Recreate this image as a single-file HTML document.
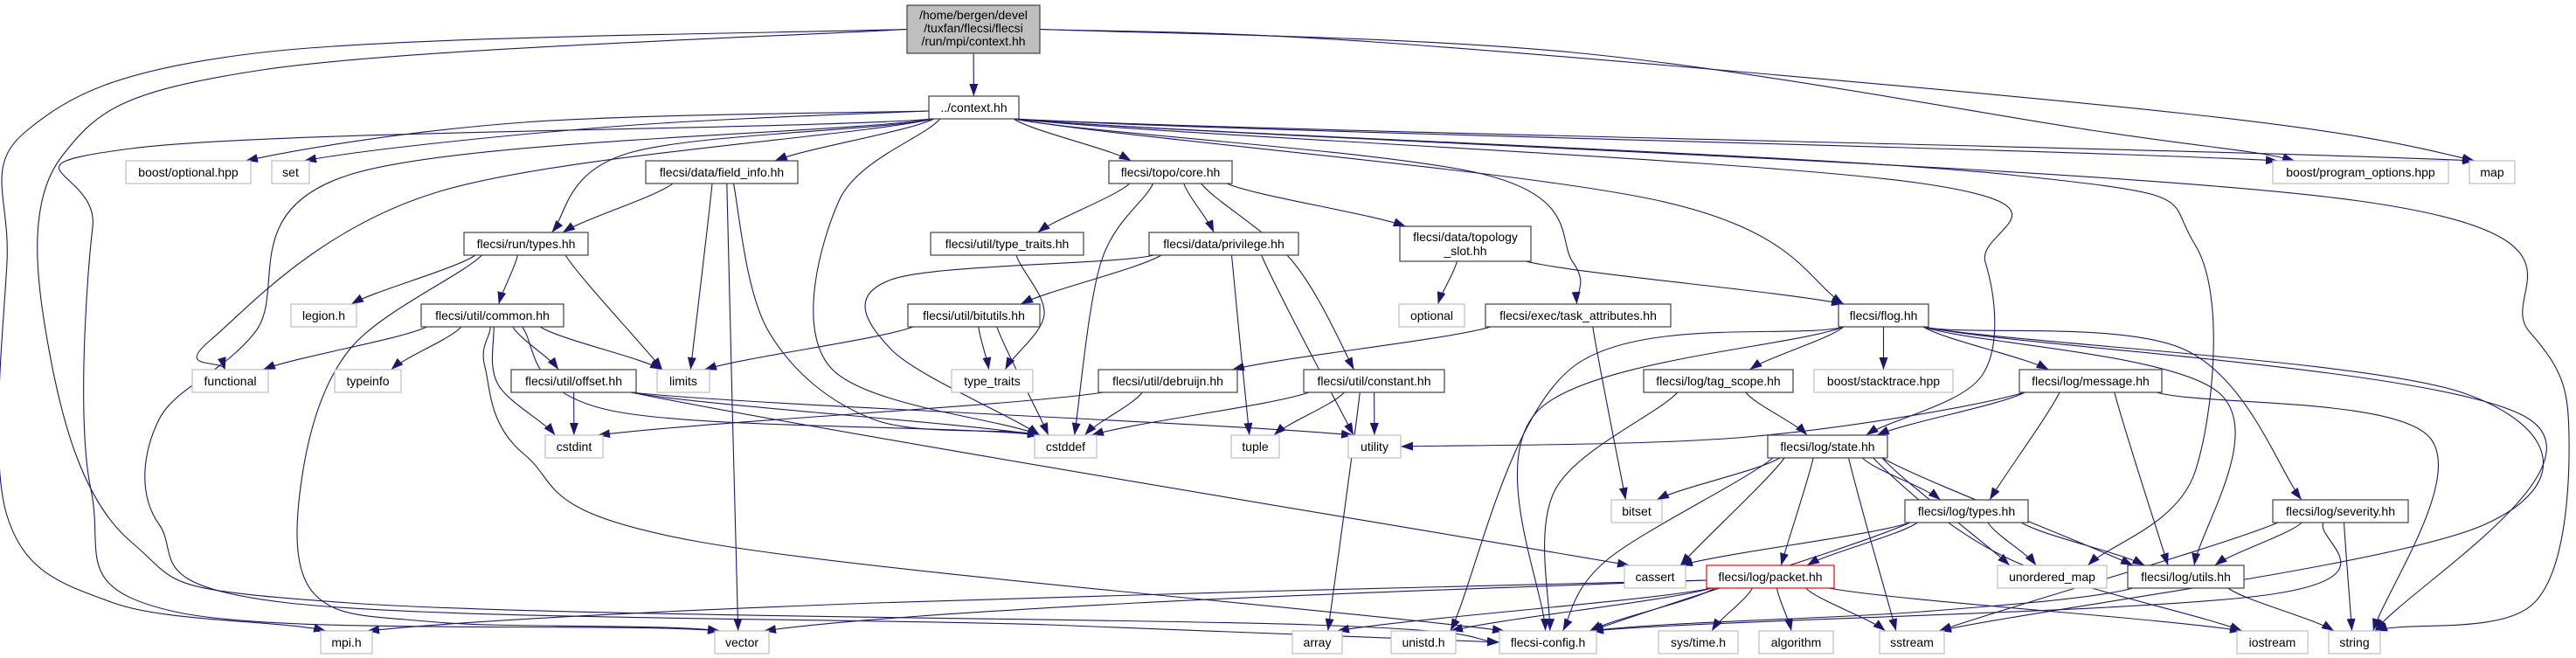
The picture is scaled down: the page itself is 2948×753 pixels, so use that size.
<!DOCTYPE html>
<html><head><meta charset="utf-8"><style>
html,body{margin:0;padding:0;background:#fff;}
svg{display:block;}
text{font-family:"Liberation Sans",sans-serif;font-size:14px;fill:#000;text-anchor:middle;}
.n{fill:#fff;stroke:#404040;stroke-width:1.2;}
.x{fill:#fff;stroke:#bfbfbf;stroke-width:1.2;}
</style></head><body>
<svg id="g" width="2948" height="753" viewBox="0 0 2948 753" xmlns="http://www.w3.org/2000/svg">
<defs><marker id="ah" markerWidth="14" markerHeight="10" refX="14" refY="5" orient="auto" markerUnits="userSpaceOnUse"><path d="M0,0 L14,5 L0,10 z" fill="#191970"/></marker></defs>
<g id="edges" fill="none" stroke="#191970" stroke-width="1.1"></g>
<g id="nodes">
<rect id="top" x="1038" y="6" width="152" height="55" fill="#bfbfbf" stroke="#404040" stroke-width="1.2"/>
<text x="1114" y="22">/home/bergen/devel</text><text x="1114" y="37">/tuxfan/flecsi/flecsi</text><text x="1114" y="52">/run/mpi/context.hh</text>
<rect id="ctx" class="n" x="1063" y="110" width="103" height="26"/><text x="1114.5" y="128">../context.hh</text>
<rect id="bopt" class="x" x="144" y="184" width="143" height="26"/><text x="215.5" y="202">boost/optional.hpp</text>
<rect id="set" class="x" x="311" y="184" width="43" height="26"/><text x="332.5" y="202">set</text>
<rect id="finfo" class="n" x="739" y="184" width="174" height="26"/><text x="826" y="202">flecsi/data/field_info.hh</text>
<rect id="core" class="n" x="1269" y="184" width="141" height="26"/><text x="1339.5" y="202">flecsi/topo/core.hh</text>
<rect id="bpo" class="x" x="2601" y="184" width="201" height="26"/><text x="2701.5" y="202">boost/program_options.hpp</text>
<rect id="map" class="x" x="2826" y="184" width="52" height="26"/><text x="2852" y="202">map</text>
<rect id="rtypes" class="n" x="531" y="266" width="142" height="26"/><text x="602" y="284">flecsi/run/types.hh</text>
<rect id="utt" class="n" x="1065" y="266" width="175" height="26"/><text x="1152.5" y="284">flecsi/util/type_traits.hh</text>
<rect id="priv" class="n" x="1315" y="266" width="171" height="26"/><text x="1400.5" y="284">flecsi/data/privilege.hh</text>
<rect id="tslot" class="n" x="1602" y="259" width="150" height="40"/><text x="1677" y="276">flecsi/data/topology</text><text x="1677" y="292">_slot.hh</text>
<rect id="legion" class="x" x="333" y="348" width="75" height="26"/><text x="370.5" y="366">legion.h</text>
<rect id="common" class="n" x="482" y="348" width="163" height="26"/><text x="563.5" y="366">flecsi/util/common.hh</text>
<rect id="bitutils" class="n" x="1039" y="348" width="151" height="26"/><text x="1114.5" y="366">flecsi/util/bitutils.hh</text>
<rect id="optional" class="x" x="1601" y="348" width="75" height="26"/><text x="1638.5" y="366">optional</text>
<rect id="task" class="n" x="1700" y="348" width="212" height="26"/><text x="1806" y="366">flecsi/exec/task_attributes.hh</text>
<rect id="flog" class="n" x="2104" y="348" width="103" height="26"/><text x="2155.5" y="366">flecsi/flog.hh</text>
<rect id="functional" class="x" x="220" y="423" width="87" height="26"/><text x="263.5" y="441">functional</text>
<rect id="typeinfo" class="x" x="383" y="423" width="76" height="26"/><text x="421" y="441">typeinfo</text>
<rect id="offset" class="n" x="585" y="423" width="143" height="26"/><text x="656.5" y="441">flecsi/util/offset.hh</text>
<rect id="limits" class="x" x="752" y="423" width="60" height="26"/><text x="782" y="441">limits</text>
<rect id="tt" class="x" x="1089" y="423" width="93" height="26"/><text x="1135.5" y="441">type_traits</text>
<rect id="debruijn" class="n" x="1257" y="423" width="159" height="26"/><text x="1336.5" y="441">flecsi/util/debruijn.hh</text>
<rect id="constant" class="n" x="1492" y="423" width="161" height="26"/><text x="1572.5" y="441">flecsi/util/constant.hh</text>
<rect id="tagscope" class="n" x="1881" y="423" width="171" height="26"/><text x="1966.5" y="441">flecsi/log/tag_scope.hh</text>
<rect id="stack" class="x" x="2076" y="423" width="159" height="26"/><text x="2155.5" y="441">boost/stacktrace.hpp</text>
<rect id="message" class="n" x="2311" y="423" width="163" height="26"/><text x="2392.5" y="441">flecsi/log/message.hh</text>
<rect id="cstdint" class="x" x="624" y="498" width="66" height="26"/><text x="657" y="516">cstdint</text>
<rect id="cstddef" class="x" x="1184" y="498" width="71" height="26"/><text x="1219.5" y="516">cstddef</text>
<rect id="tuple" class="x" x="1409" y="498" width="55" height="26"/><text x="1436.5" y="516">tuple</text>
<rect id="utility" class="x" x="1543" y="498" width="60" height="26"/><text x="1573" y="516">utility</text>
<rect id="state" class="n" x="2023" y="498" width="137" height="26"/><text x="2091.5" y="516">flecsi/log/state.hh</text>
<rect id="bitset" class="x" x="1844" y="572" width="58" height="26"/><text x="1873" y="590">bitset</text>
<rect id="ltypes" class="n" x="2180" y="572" width="141" height="26"/><text x="2250.5" y="590">flecsi/log/types.hh</text>
<rect id="severity" class="n" x="2601" y="572" width="155" height="26"/><text x="2678.5" y="590">flecsi/log/severity.hh</text>
<rect id="cassert" class="x" x="1859" y="647" width="70" height="26"/><text x="1894" y="665">cassert</text>
<rect id="packet" x="1953" y="647" width="146" height="26" fill="#fff" stroke="#ff0000" stroke-width="1.2"/><text x="2026" y="665">flecsi/log/packet.hh</text>
<rect id="umap" class="x" x="2286" y="647" width="125" height="26"/><text x="2348.5" y="665">unordered_map</text>
<rect id="utils" class="n" x="2435" y="647" width="133" height="26"/><text x="2501.5" y="665">flecsi/log/utils.hh</text>
<rect id="mpi" class="x" x="367" y="722" width="59" height="26"/><text x="396.5" y="740">mpi.h</text>
<rect id="vector" class="x" x="818" y="722" width="62" height="26"/><text x="849" y="740">vector</text>
<rect id="array" class="x" x="1479" y="722" width="57" height="26"/><text x="1507.5" y="740">array</text>
<rect id="unistd" class="x" x="1592" y="722" width="74" height="26"/><text x="1629" y="740">unistd.h</text>
<rect id="config" class="x" x="1716" y="722" width="111" height="26"/><text x="1771.5" y="740">flecsi-config.h</text>
<rect id="systime" class="x" x="1898" y="722" width="91" height="26"/><text x="1943.5" y="740">sys/time.h</text>
<rect id="algorithm" class="x" x="2013" y="722" width="85" height="26"/><text x="2055.5" y="740">algorithm</text>
<rect id="sstream" class="x" x="2151" y="722" width="74" height="26"/><text x="2188" y="740">sstream</text>
<rect id="iostream" class="x" x="2560" y="722" width="81" height="26"/><text x="2600.5" y="740">iostream</text>
<rect id="string" class="x" x="2665" y="722" width="59" height="26"/><text x="2694.5" y="740">string</text>
</g>
</svg>
<script>
(function(){
var E=[
['top','ctx'],
['top','mpi',[[300,60],[30,150],[8,300],[8,590],[130,690]]],
['top','config',[[300,80],[70,180],[56,400],[150,620],[400,690],[1500,715]]],
['top','bpo',[[1800,60],[2400,150]]],
['top','map',[[1600,50],[2500,130]]],
['ctx','bopt',[[600,140]]],
['ctx','set',[[700,145]]],
['ctx','finfo'],
['ctx','rtypes',[[720,175]]],
['ctx','functional',[[500,220],[240,390]]],
['ctx','vector',[[150,170],[106,260],[104,560],[200,700]]],
['ctx','config',[[400,200],[292,380],[182,480],[182,600],[330,690],[1200,715]]],
['ctx','cstddef',[[960,230],[950,420]]],
['ctx','core'],
['ctx','task',[[1700,200],[1800,300]]],
['ctx','flog',[[1900,230]]],
['ctx','umap',[[2300,200],[2512,280],[2512,540]]],
['ctx','state',[[2200,210],[2272,300],[2268,430]]],
['ctx','string',[[2700,230],[2895,380],[2940,500],[2900,690]]],
['ctx','bpo'],['ctx','map'],
['finfo','rtypes'],['finfo','limits'],['finfo','vector'],['finfo','cstddef',[[880,380],[1000,480]]],
['rtypes','legion'],['rtypes','common'],['rtypes','limits'],['rtypes','vector',[[400,400],[345,550],[360,680],[500,712]]],
['common','functional'],['common','typeinfo'],['common','offset'],['common','limits'],['common','cstdint',[[570,440]]],['common','cstddef',[[700,470]]],['common','config',[[555,420],[600,520],[800,620]]],
['offset','cstdint'],['offset','cstddef'],['offset','utility'],['offset','cassert'],
['core','utt'],['core','priv'],['core','tslot'],['core','constant',[[1480,300]]],['core','cstddef',[[1260,300]]],
['utt','tt',[[1195,360]]],
['priv','bitutils'],['priv','cstddef',[[1020,320],[1020,400]]],['priv','tuple'],['priv','utility'],
['bitutils','limits'],['bitutils','tt'],['bitutils','cstddef'],
['tslot','optional'],['tslot','flog'],
['task','debruijn'],['task','bitset'],
['debruijn','cstdint'],['debruijn','cstddef'],
['constant','cstddef'],['constant','tuple'],['constant','utility'],['constant','array'],
['flog','tagscope'],['flog','stack'],['flog','message'],['flog','severity',[[2500,400]]],['flog','utils',[[2540,450]]],['flog','unistd',[[1800,420]]],['flog','config',[[1760,470]]],['flog','sstream',[[2820,450],[2844,600]]],['flog','string',[[2895,480]]],
['tagscope','state'],['tagscope','config',[[1780,560]]],
['message','state'],['message','ltypes'],['message','utils'],['message','utility',[[2000,500]]],['message','string',[[2780,500]]],
['state','bitset'],['state','cassert'],['state','config',[[1840,640]]],['state','packet'],['state','ltypes'],['state','umap'],['state','utils'],['state','sstream'],['state','iostream',[[2300,640]]],
['ltypes','cassert'],['ltypes','packet'],['ltypes','umap'],['ltypes','utils'],['ltypes','config'],
['severity','utils'],['severity','config',[[2600,680]]],['severity','sstream'],['severity','string'],
['packet','mpi',[[1000,690]]],['packet','vector',[[1300,690]]],['packet','array'],['packet','unistd'],['packet','config'],['packet','systime'],['packet','algorithm'],['packet','sstream'],['packet','iostream'],
['utils','string'],['utils','config',[[2200,700]]]
];
function R(id){var r=document.getElementById(id);var x=+r.getAttribute('x'),y=+r.getAttribute('y'),w=+r.getAttribute('width'),h=+r.getAttribute('height');return {x:x,y:y,w:w,h:h,cx:x+w/2,cy:y+h/2};}
function cl(v,a,b){return Math.max(a,Math.min(b,v));}
var g=document.getElementById('edges'),ns='http://www.w3.org/2000/svg';
E.forEach(function(e){
 var s=R(e[0]),t=R(e[1]),wp=e[2]||[];
 var first=wp.length?{x:wp[0][0],y:wp[0][1]}:{x:t.cx,y:t.y};
 var p0,pre;
 var dy=first.y-(s.y+s.h),dx=first.x-s.cx;
 if(dy<20&&Math.abs(dx)>s.w){var sx=dx<0?s.x:s.x+s.w;var sy=s.cy+(e[0]=='top'?0:4);p0={x:sx,y:sy};pre={x:sx-(dx<0?-40:40),y:sy};}
 else{var sx2=cl(s.cx+dx*0.25,s.x+6,s.x+s.w-6);p0={x:sx2,y:s.y+s.h};pre={x:sx2,y:s.y+s.h-40};}
 var last=wp.length?{x:wp[wp.length-1][0],y:wp[wp.length-1][1]}:p0;
 var pe,post;
 if(last.y<t.y-8){var tx=cl(t.cx+(last.x-t.cx)*0.25,t.x+6,t.x+t.w-6);pe={x:tx,y:t.y};post={x:tx+(tx-last.x)*0.2,y:t.y+40};}
 else{var left=last.x<t.cx;var tx2=left?t.x:t.x+t.w;pe={x:tx2,y:t.cy};post={x:tx2+(left?40:-40),y:t.cy};}
 var P=[pre,p0];wp.forEach(function(w){P.push({x:w[0],y:w[1]});});P.push(pe);P.push(post);
 var d='M'+p0.x.toFixed(1)+','+p0.y.toFixed(1);
 for(var i=1;i<P.length-2;i++){
  var a=P[i-1],b=P[i],c=P[i+1],f=P[i+2];
  var c1={x:b.x+(c.x-a.x)/6,y:b.y+(c.y-a.y)/6},c2={x:c.x-(f.x-b.x)/6,y:c.y-(f.y-b.y)/6};
  d+=' C'+c1.x.toFixed(1)+','+c1.y.toFixed(1)+' '+c2.x.toFixed(1)+','+c2.y.toFixed(1)+' '+c.x.toFixed(1)+','+c.y.toFixed(1);
 }
 var p=document.createElementNS(ns,'path');p.setAttribute('d',d);p.setAttribute('marker-end','url(#ah)');g.appendChild(p);
});
})();
</script>
</body></html>
